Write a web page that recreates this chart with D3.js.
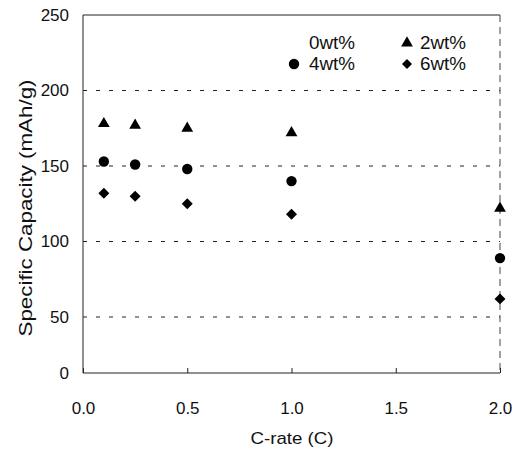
<!DOCTYPE html>
<html><head><meta charset="utf-8">
<script src="https://cdn.jsdelivr.net/npm/d3@7"></script>
<style>body{margin:0;background:#fff;} text{font-family:"Liberation Sans",Arial,sans-serif;fill:#111;}</style>
</head><body>
<svg id="c" width="521" height="461"></svg>
<script>
const cRates = [0.1, 0.25, 0.5, 1.0, 2.0];
const wt2 = [178, 177, 175, 172, 122];
const wt4 = [153, 151, 148, 140, 89];
const wt6 = [132, 130, 125, 118, 62];
const xTicks = [0.0, 0.5, 1.0, 1.5, 2.0];
const yTicks = [0, 50, 100, 150, 200, 250];
const gridVals = [50, 100, 150, 200];
const legendLabels = ["0wt%", "2wt%", "4wt%", "6wt%"];

const svg = d3.select("#c");
const L = 83, R = 500, T = 15, B = 373;
const x = d3.scaleLinear().domain([0, 2]).range([L, R]);
// scanned figure: the lowest interval is visibly compressed
const y = d3.scaleLinear().domain([0, 50, 250]).range([B, 317, T]);

// gridlines
svg.append("g").selectAll("line").data(gridVals).join("line")
  .attr("x1", L).attr("x2", R).attr("y1", d => y(d)).attr("y2", d => y(d))
  .attr("stroke", "#222").attr("stroke-width", 1).attr("stroke-dasharray", "4,9");

// frame
svg.append("line").attr("x1", L).attr("x2", R).attr("y1", T).attr("y2", T).attr("stroke", "#222");
svg.append("line").attr("x1", L).attr("x2", R).attr("y1", B).attr("y2", B).attr("stroke", "#222");
svg.append("line").attr("x1", L).attr("x2", L).attr("y1", T).attr("y2", B).attr("stroke", "#222");
svg.append("line").attr("x1", R).attr("x2", R).attr("y1", T).attr("y2", B).attr("stroke", "#444").attr("stroke-dasharray", "7,5");

// x axis
const xa = svg.append("g").attr("transform", `translate(0,${B})`)
  .call(d3.axisBottom(x).tickValues(xTicks).tickFormat(d3.format(".1f")).tickSizeInner(-5).tickSizeOuter(0).tickPadding(29));
xa.select(".domain").remove();
xa.selectAll("line").attr("stroke", "#222");
xa.selectAll("text").style("font-size", "17px").attr("fill", "#111");

// y axis
const ya = svg.append("g").attr("transform", `translate(${L},0)`)
  .call(d3.axisLeft(y).tickValues(yTicks).tickSize(0).tickPadding(14));
ya.select(".domain").remove();
ya.selectAll("text").style("font-size", "17px").attr("fill", "#111");

// axis titles
svg.append("text").attr("x", 292).attr("y", 444).attr("text-anchor", "middle").style("font-size", "17px")
  .attr("textLength", 83).attr("lengthAdjust", "spacingAndGlyphs").text("C-rate (C)");
svg.append("text").attr("transform", "translate(32,208) rotate(-90)").attr("text-anchor", "middle").style("font-size", "18px")
  .attr("textLength", 257).attr("lengthAdjust", "spacingAndGlyphs").text("Specific Capacity (mAh/g)");

const sym = {
  tri: d3.symbol().type(d3.symbolTriangle).size(60),
  cir: d3.symbol().type(d3.symbolCircle).size(85),
  dia: d3.symbol().type(d3.symbolSquare).size(60)
};
function plot(vals, kind) {
  svg.append("g").selectAll("path").data(vals).join("path")
    .attr("d", sym[kind])
    .attr("transform", (d, i) => `translate(${x(cRates[i])},${y(d)})` + (kind === "dia" ? " rotate(45)" : ""))
    .attr("fill", "#000");
}
plot(wt2, "tri");
plot(wt4, "cir");
plot(wt6, "dia");

// legend
const lg = svg.append("g");
function ltext(xp, yp, t) {
  lg.append("text").attr("x", xp).attr("y", yp).style("font-size", "18px")
    .attr("textLength", 46).attr("lengthAdjust", "spacingAndGlyphs").text(t);
}
ltext(309, 49, legendLabels[0]);
lg.append("path").attr("d", sym.tri).attr("transform", "translate(407,43)").attr("fill", "#000");
ltext(420, 49, legendLabels[1]);
lg.append("path").attr("d", sym.cir).attr("transform", "translate(294,64)").attr("fill", "#000");
ltext(309, 70, legendLabels[2]);
lg.append("path").attr("d", d3.symbol().type(d3.symbolSquare).size(50)).attr("transform", "translate(407,64) rotate(45)").attr("fill", "#000");
ltext(420, 70, legendLabels[3]);
</script>
</body></html>
